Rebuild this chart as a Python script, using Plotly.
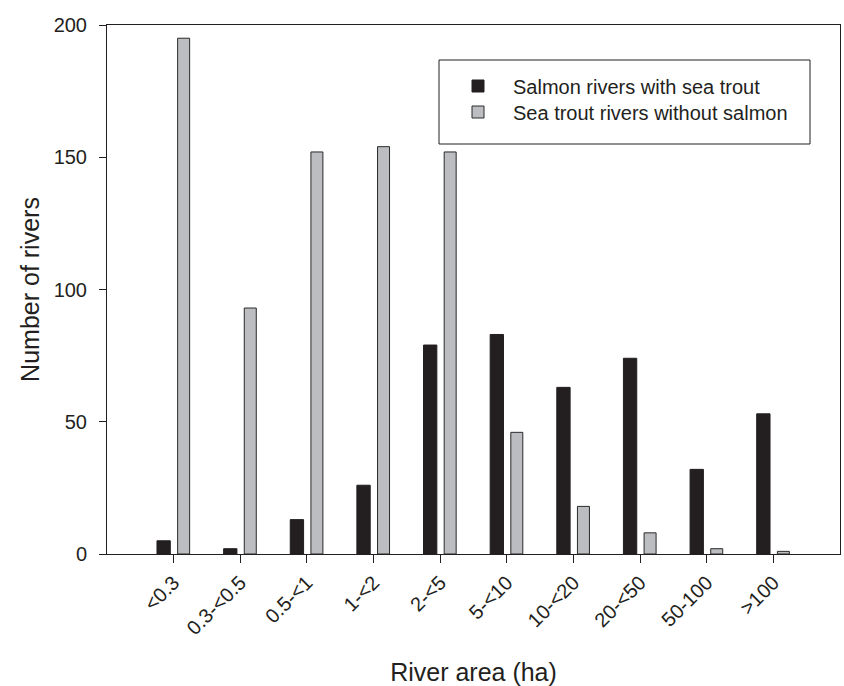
import plotly.graph_objects as go

categories = ["<0.3", "0.3-<0.5", "0.5-<1", "1-<2", "2-<5", "5-<10", "10-<20", "20-<50", "50-100", ">100"]
salmon_with_trout = [5, 2, 13, 26, 79, 83, 63, 74, 32, 53]
trout_without_salmon = [195, 93, 152, 154, 152, 46, 18, 8, 2, 1]
y_ticks = [0, 50, 100, 150, 200]

FONT = "Liberation Sans, Arial, sans-serif"
INK = "#231f20"

fig = go.Figure()
fig.add_trace(go.Bar(
    x=categories, y=salmon_with_trout, name="Salmon rivers with sea trout",
    marker=dict(color=INK, line=dict(color=INK, width=1)),
    width=0.2, offset=-0.25, legend="legend",
))
fig.add_trace(go.Bar(
    x=categories, y=trout_without_salmon, name="Sea trout rivers without salmon",
    marker=dict(color="#bcbdc0", line=dict(color="#2a2a2a", width=1)),
    width=0.18, offset=0.06, legend="legend2",
))

# legend frame
fig.add_shape(type="rect", xref="paper", yref="paper",
              x0=(439 - 107) / 733, x1=(810 - 107) / 733,
              y0=(554 - 144) / 529, y1=(554 - 60) / 529,
              line=dict(color=INK, width=1), fillcolor="white", layer="below")

leg_common = dict(
    xanchor="left", yanchor="middle",
    borderwidth=0, bgcolor="rgba(0,0,0,0)",
    font=dict(size=20, family=FONT, color=INK),
    itemwidth=60,
)

fig.update_layout(
    width=844, height=686,
    margin=dict(l=107, r=4, t=25, b=132, autoexpand=False),
    paper_bgcolor="white", plot_bgcolor="white",
    font=dict(family=FONT, size=20, color=INK),
    barmode="group",
    showlegend=True,
    legend=dict(x=(443 - 107) / 733, y=(554 - 86) / 529, **leg_common),
    legend2=dict(x=(443 - 107) / 733, y=(554 - 112) / 529, **leg_common),
    xaxis=dict(
        type="category", range=[-1, 10],
        showline=True, linecolor=INK, linewidth=1, mirror=True,
        ticks="outside", ticklen=8, tickcolor=INK, tickwidth=1,
        tickangle=-45, tickfont=dict(size=20),
        showgrid=False, zeroline=False,
        title=dict(text="River area (ha)", font=dict(size=25), standoff=28),
    ),
    yaxis=dict(
        range=[0, 200], tickvals=y_ticks,
        showline=True, linecolor=INK, linewidth=1, mirror=True,
        ticks="outside", ticklen=7, tickcolor=INK, tickwidth=1,
        tickfont=dict(size=20), ticklabelstandoff=8,
        showgrid=False, zeroline=False,
        title=dict(text="Number of rivers", font=dict(size=25), standoff=6),
    ),
)

fig.write_html("out.html")
